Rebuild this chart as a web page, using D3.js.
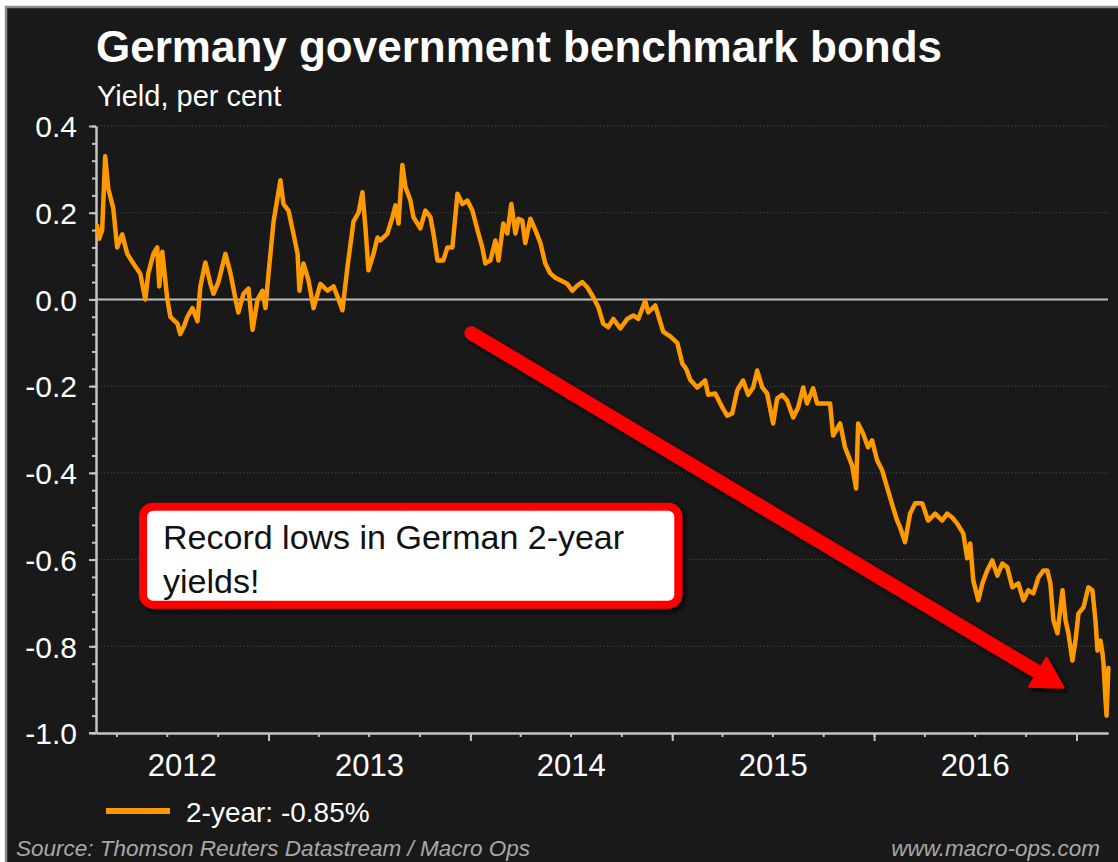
<!DOCTYPE html>
<html>
<head>
<meta charset="utf-8">
<script src="https://cdn.jsdelivr.net/npm/d3@7"></script>
<style>
  html, body { margin: 0; padding: 0; background: #ffffff; }
  svg { display: block; }
</style>
</head>
<body>
<svg id="chart" width="1118" height="862"></svg>
<script>
// German 2-year benchmark bond yield, per cent. Dates are decimal years.
const dates = [
  2012.153,2012.163,2012.178,2012.193,2012.208,2012.233,2012.252,2012.277,2012.302,2012.332,
  2012.366,2012.391,2012.406,2012.431,2012.450,2012.460,2012.475,2012.500,2012.515,2012.550,
  2012.564,2012.584,2012.599,2012.624,2012.649,2012.663,2012.688,2012.713,2012.728,2012.752,
  2012.787,2012.812,2012.837,2012.851,2012.876,2012.901,2012.921,2012.946,2012.970,2012.985,
  2013.000,2013.025,2013.059,2013.074,2013.099,2013.124,2013.144,2013.153,2013.173,2013.198,
  2013.223,2013.257,2013.292,2013.322,2013.347,2013.366,2013.391,2013.421,2013.446,2013.465,
  2013.480,2013.495,2013.520,2013.540,2013.554,2013.589,2013.614,2013.629,2013.644,2013.663,
  2013.678,2013.703,2013.718,2013.752,2013.777,2013.802,2013.817,2013.837,2013.866,2013.886,
  2013.911,2013.936,2013.960,2013.985,2014.010,2014.035,2014.059,2014.074,2014.099,2014.124,
  2014.139,2014.163,2014.183,2014.203,2014.223,2014.238,2014.257,2014.272,2014.297,2014.322,
  2014.347,2014.371,2014.396,2014.421,2014.446,2014.480,2014.505,2014.530,2014.554,2014.579,
  2014.609,2014.634,2014.658,2014.683,2014.708,2014.743,2014.777,2014.807,2014.832,2014.866,
  2014.881,2014.916,2014.955,2014.990,2015.025,2015.050,2015.069,2015.089,2015.124,2015.163,
  2015.178,2015.213,2015.248,2015.272,2015.297,2015.322,2015.351,2015.376,2015.401,2015.421,
  2015.446,2015.470,2015.500,2015.520,2015.545,2015.569,2015.599,2015.624,2015.649,2015.668,
  2015.698,2015.718,2015.748,2015.782,2015.797,2015.832,2015.856,2015.891,2015.911,2015.921,
  2015.946,2015.970,2015.990,2016.015,2016.040,2016.064,2016.094,2016.114,2016.129,2016.153,
  2016.178,2016.203,2016.238,2016.267,2016.302,2016.337,2016.361,2016.386,2016.411,2016.441,
  2016.460,2016.475,2016.490,2016.515,2016.535,2016.559,2016.584,2016.609,2016.634,2016.658,
  2016.683,2016.713,2016.738,2016.762,2016.787,2016.812,2016.837,2016.856,2016.871,2016.886,
  2016.906,2016.931,2016.946,2016.960,2016.980,2016.995,2017.010,2017.035,2017.059,2017.079,
  2017.094,2017.104,2017.119,2017.129,2017.134,2017.144,2017.149,2017.158
];

const yields = [
  0.17,0.14,0.16,0.33,0.256,0.21,0.12,0.15,0.105,0.083,
  0.06,0.0,0.06,0.105,0.12,0.03,0.11,0.0,-0.04,-0.056,
  -0.08,-0.06,-0.04,-0.02,-0.05,0.03,0.085,0.036,0.013,0.04,
  0.105,0.06,0.0,-0.03,0.013,0.025,-0.07,0.0,0.02,-0.02,
  0.06,0.18,0.275,0.22,0.205,0.15,0.105,0.02,0.083,0.044,
  -0.02,0.036,0.02,0.03,0.0,-0.025,0.075,0.18,0.2,0.247,
  0.166,0.067,0.105,0.143,0.136,0.152,0.19,0.217,0.175,0.31,
  0.26,0.228,0.19,0.164,0.205,0.19,0.152,0.09,0.09,0.12,
  0.12,0.244,0.22,0.228,0.205,0.16,0.12,0.083,0.09,0.136,
  0.09,0.175,0.152,0.22,0.152,0.186,0.182,0.13,0.186,0.16,
  0.13,0.083,0.06,0.05,0.044,0.036,0.02,0.032,0.04,0.028,
  0.005,-0.018,-0.056,-0.064,-0.045,-0.067,-0.045,-0.037,-0.045,-0.003,
  -0.03,-0.014,-0.074,-0.085,-0.1,-0.148,-0.16,-0.185,-0.203,-0.187,
  -0.22,-0.217,-0.249,-0.268,-0.263,-0.21,-0.187,-0.22,-0.203,-0.164,
  -0.203,-0.217,-0.286,-0.228,-0.22,-0.233,-0.272,-0.249,-0.203,-0.24,
  -0.205,-0.24,-0.24,-0.24,-0.314,-0.286,-0.341,-0.383,-0.436,-0.286,
  -0.31,-0.341,-0.325,-0.371,-0.394,-0.433,-0.48,-0.51,-0.526,-0.56,
  -0.494,-0.47,-0.47,-0.51,-0.494,-0.51,-0.494,-0.503,-0.517,-0.54,
  -0.597,-0.563,-0.648,-0.694,-0.655,-0.625,-0.602,-0.637,-0.609,-0.618,
  -0.664,-0.655,-0.694,-0.671,-0.678,-0.641,-0.625,-0.625,-0.655,-0.74,
  -0.77,-0.671,-0.74,-0.77,-0.833,-0.787,-0.724,-0.71,-0.664,-0.671,
  -0.74,-0.81,-0.787,-0.817,-0.84,-0.925,-0.96,-0.85
];

const yTicks = [0.4, 0.2, 0.0, -0.2, -0.4, -0.6, -0.8, -1.0];
const yearLabels = [2012, 2013, 2014, 2015, 2016];

const titleText = "Germany government benchmark bonds";
const subtitleText = "Yield, per cent";
const legendText = "2-year: -0.85%";
const sourceText = "Source: Thomson Reuters Datastream / Macro Ops";
const siteText = "www.macro-ops.com";
const noteLines = ["Record lows in German 2-year", "yields!"];

// decimal year -> Date
function toDate(t) {
  const yr = Math.floor(t);
  const a = new Date(yr, 0, 1), b = new Date(yr + 1, 0, 1);
  return new Date(+a + (t - yr) * (b - a));
}

const series = dates.map((d, i) => ({ date: toDate(d), value: yields[i] }));

const FONT = "'Liberation Sans', Arial, Helvetica, sans-serif";
const svg = d3.select("#chart");

// panel
svg.append("rect").attr("x", 0).attr("y", 0).attr("width", 1118).attr("height", 862).attr("fill", "#ffffff");
svg.append("rect").attr("x", 6).attr("y", 7).attr("width", 1114).attr("height", 858)
  .attr("fill", "#191919").attr("stroke", "#8c8c8c").attr("stroke-width", 2.5);

const x = d3.scaleTime()
  .domain([new Date(2012, 1, 24), new Date(2017, 1, 27)])
  .range([96, 1108]);
const y = d3.scaleLinear().domain([-1.0, 0.4]).range([733, 126]);

const defs = svg.append("defs");
const shadow = defs.append("filter").attr("id", "shadow")
  .attr("x", "-20%").attr("y", "-20%").attr("width", "140%").attr("height", "140%");
shadow.append("feDropShadow").attr("dx", 3).attr("dy", 3).attr("stdDeviation", 2.5)
  .attr("flood-color", "#000").attr("flood-opacity", 0.9);
defs.append("clipPath").attr("id", "plotclip").append("rect")
  .attr("x", 96).attr("y", 100).attr("width", 1016).attr("height", 640);

// dotted gridlines
svg.append("g").selectAll("line")
  .data(yTicks.filter(v => v !== 0 && v !== -1.0))
  .join("line")
  .attr("x1", 97).attr("x2", 1108)
  .attr("y1", d => y(d)).attr("y2", d => y(d))
  .attr("stroke", "#4a4a4a").attr("stroke-width", 1)
  .attr("stroke-dasharray", "1.2,2.2");

// zero line
svg.append("line")
  .attr("x1", 96).attr("x2", 1108)
  .attr("y1", y(0)).attr("y2", y(0))
  .attr("stroke", "#bdbdbd").attr("stroke-width", 2);

// y axis: minor ticks every 0.04, labelled majors every 0.2
const minorY = d3.range(0, 36).map(i => +(-1.0 + i * 0.04).toFixed(2)).filter(v => v <= 0.4);
const axisColor = "#c4c4c4";
const gyMinor = svg.append("g").attr("transform", "translate(96,0)")
  .call(d3.axisLeft(y).tickValues(minorY).tickSize(4).tickSizeOuter(0).tickFormat(""));
const gy = svg.append("g").attr("transform", "translate(96,0)")
  .call(d3.axisLeft(y).tickValues(yTicks).tickSize(7).tickSizeOuter(0).tickPadding(12)
    .tickFormat(d => d.toFixed(1)));
[gyMinor, gy].forEach(g => {
  g.select(".domain").attr("stroke", axisColor).attr("stroke-width", 2);
  g.selectAll(".tick line").attr("stroke", axisColor).attr("stroke-width", 2);
});
gy.selectAll(".tick text")
  .attr("fill", "#ffffff").style("font-family", FONT).style("font-size", "30px")
  .attr("dy", "0.36em");

// x axis: quarterly minor ticks, yearly majors
const gxMinor = svg.append("g").attr("transform", "translate(0,733)")
  .call(d3.axisBottom(x).ticks(d3.timeMonth.every(3)).tickSize(4).tickSizeOuter(0).tickFormat(""));
const gx = svg.append("g").attr("transform", "translate(0,733)")
  .call(d3.axisBottom(x).ticks(d3.timeYear.every(1)).tickSize(8).tickSizeOuter(0).tickFormat(""));
[gxMinor, gx].forEach(g => {
  g.select(".domain").attr("stroke", axisColor).attr("stroke-width", 2);
  g.selectAll(".tick line").attr("stroke", axisColor).attr("stroke-width", 2);
});
// extend the horizontal axis slightly left of the y axis
svg.append("line").attr("x1", 89).attr("x2", 97).attr("y1", 733).attr("y2", 733)
  .attr("stroke", axisColor).attr("stroke-width", 2);

// year labels centred in the visible part of each year
const [d0, d1] = x.domain();
svg.append("g").selectAll("text")
  .data(yearLabels)
  .join("text")
  .attr("x", yr => {
    const a = new Date(Math.max(+new Date(yr, 0, 1), +d0));
    const b = new Date(Math.min(+new Date(yr + 1, 0, 1), +d1));
    return (x(a) + x(b)) / 2;
  })
  .attr("y", 776)
  .attr("text-anchor", "middle")
  .attr("fill", "#ffffff")
  .style("font-family", FONT).style("font-size", "31px")
  .text(d => d);

// yield line
const line = d3.line().x(d => x(d.date)).y(d => y(d.value));
svg.append("path")
  .datum(series)
  .attr("clip-path", "url(#plotclip)")
  .attr("d", line)
  .attr("fill", "none")
  .attr("stroke", "#ff9900")
  .attr("stroke-width", 4.5)
  .attr("stroke-linejoin", "round")
  .attr("stroke-linecap", "round");

// trend arrow
const arrowFrom = { date: toDate(2014.005), value: -0.078 };
const arrowTo = { date: toDate(2016.936), value: -0.895 };
(function drawArrow() {
  const x0 = x(arrowFrom.date), y0 = y(arrowFrom.value);
  const x1 = x(arrowTo.date), y1 = y(arrowTo.value);
  const len = Math.hypot(x1 - x0, y1 - y0);
  const ux = (x1 - x0) / len, uy = (y1 - y0) / len;
  const nx = -uy, ny = ux;
  const headLen = 30, headHalf = 17;
  const bx = x1 - ux * headLen, by = y1 - uy * headLen;
  const g = svg.append("g").attr("filter", "url(#shadow)");
  g.append("line")
    .attr("x1", x0).attr("y1", y0).attr("x2", bx + ux * 2).attr("y2", by + uy * 2)
    .attr("stroke", "#ff0000").attr("stroke-width", 14).attr("stroke-linecap", "round");
  g.append("path")
    .attr("d", `M${x1},${y1}L${bx + nx * headHalf},${by + ny * headHalf}L${bx - nx * headHalf},${by - ny * headHalf}Z`)
    .attr("fill", "#ff0000").attr("stroke", "#ff0000").attr("stroke-width", 2).attr("stroke-linejoin", "round");
})();

// callout box
const note = { from: toDate(2012.38), to: toDate(2015.03), top: -0.478, bottom: -0.704 };
const nbx = x(note.from), nbx2 = x(note.to), nby = y(note.top), nby2 = y(note.bottom);
svg.append("rect")
  .attr("x", nbx).attr("y", nby).attr("width", nbx2 - nbx).attr("height", nby2 - nby)
  .attr("rx", 10).attr("ry", 10)
  .attr("fill", "#ffffff").attr("stroke", "#ff0000").attr("stroke-width", 8)
  .attr("filter", "url(#shadow)");
svg.append("g").selectAll("text")
  .data(noteLines)
  .join("text")
  .attr("x", nbx + 20)
  .attr("y", (d, i) => nby + 42 + i * 44)
  .attr("fill", "#111111")
  .style("font-family", FONT).style("font-size", "34px")
  .text(d => d);

// title and subtitle
svg.append("text").attr("x", 96).attr("y", 62)
  .attr("fill", "#ffffff").style("font-family", FONT).style("font-size", "44px").style("font-weight", "bold")
  .text(titleText);
svg.append("text").attr("x", 97).attr("y", 106)
  .attr("fill", "#ffffff").style("font-family", FONT).style("font-size", "29px")
  .text(subtitleText);

// legend
svg.append("line").attr("x1", 106).attr("x2", 170).attr("y1", 811).attr("y2", 811)
  .attr("stroke", "#ff9900").attr("stroke-width", 6);
svg.append("text").attr("x", 186).attr("y", 822)
  .attr("fill", "#ffffff").style("font-family", FONT).style("font-size", "28px")
  .text(legendText);

// footer
svg.append("text").attr("x", 16).attr("y", 856)
  .attr("fill", "#a8a8a8").style("font-family", FONT).style("font-size", "22.5px").style("font-style", "italic")
  .text(sourceText);
svg.append("text").attr("x", 1100).attr("y", 856).attr("text-anchor", "end")
  .attr("fill", "#a8a8a8").style("font-family", FONT).style("font-size", "22.5px").style("font-style", "italic")
  .text(siteText);
</script>
</body>
</html>
